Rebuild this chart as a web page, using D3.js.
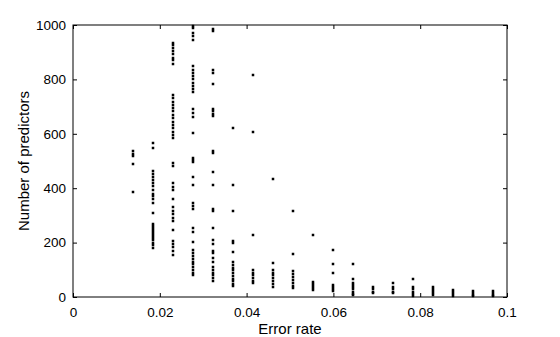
<!DOCTYPE html>
<html>
<head>
<meta charset="utf-8">
<script src="https://cdn.jsdelivr.net/npm/d3@7"></script>
<style>
  body { margin: 0; background: #fff; }
  text { font-family: "Liberation Sans", Arial, sans-serif; }
</style>
</head>
<body>
<div id="chart"></div>
<script>
// error rate of each column of points
const errorRates = [0.0138, 0.0184, 0.0230, 0.0276, 0.0323, 0.0369, 0.0415, 0.0461, 0.0507,
  0.0553, 0.0599, 0.0645, 0.0691, 0.0737, 0.0783, 0.0829, 0.0876, 0.0922, 0.0968];

// number of predictors seen at each error rate (one list per column)
const predictorCounts = [
  [535, 525, 520, 490, 385],
  [565, 548, 462, 452, 442, 430, 420, 408, 395, 380, 370, 360, 345, 310, 270, 262, 255, 248,
   240, 232, 225, 218, 210, 200, 190, 180],
  [935, 925, 915, 905, 895, 880, 870, 858, 742, 730, 718, 706, 694, 682, 670, 658, 645, 632,
   620, 608, 596, 586, 492, 480, 418, 406, 395, 360, 330, 318, 305, 292, 280, 245, 205, 195,
   185, 170, 155],
  [998, 990, 972, 958, 945, 848, 836, 824, 812, 800, 788, 776, 765, 755, 690, 676, 662, 602,
   512, 502, 495, 440, 412, 345, 335, 325, 255, 240, 202, 172, 160, 150, 140, 130, 120, 110,
   100, 90, 82],
  [985, 978, 835, 825, 783, 692, 682, 672, 664, 538, 528, 460, 410, 322, 315, 252, 208, 195,
   170, 160, 145, 130, 110, 100, 90, 80, 70, 60],
  [620, 410, 318, 205, 198, 165, 130, 118, 108, 98, 88, 78, 68, 58, 48, 40],
  [815, 605, 228, 100, 90, 80, 70, 60, 50],
  [432, 125, 100, 90, 80, 70, 58, 48, 38],
  [315, 157, 95, 85, 72, 62, 52, 42, 32],
  [228, 55, 48, 40, 32, 26],
  [172, 120, 87, 44, 36, 28, 22],
  [120, 65, 52, 44, 36, 28, 20, 12, 7],
  [36, 28, 20, 15],
  [52, 36, 28, 20, 13],
  [65, 36, 28, 20, 12, 5],
  [37, 30, 22, 14, 6],
  [27, 20, 12, 5],
  [22, 15, 8, 4],
  [22, 15, 8, 4]
];

const xTicks = [0, 0.02, 0.04, 0.06, 0.08, 0.1];
const yTicks = [0, 200, 400, 600, 800, 1000];

const width = 560, height = 337;
const margin = { top: 25, right: 53, bottom: 40, left: 73 };
const innerW = width - margin.left - margin.right;
const innerH = height - margin.top - margin.bottom;

const points = errorRates.flatMap((e, i) => predictorCounts[i].map(n => ({ e, n })));

const svg = d3.select('#chart').append('svg')
  .attr('width', width)
  .attr('height', height);

const g = svg.append('g').attr('transform', `translate(${margin.left},${margin.top})`);

const x = d3.scaleLinear().domain([0, 0.1]).range([0, innerW]);
const y = d3.scaleLinear().domain([0, 1000]).range([innerH, 0]);

const fmt = d3.format('~g');

// axes with inward ticks on all four sides
const styleAxis = sel => {
  sel.select('.domain').remove();
  sel.selectAll('line').attr('stroke', '#000');
  sel.selectAll('text').attr('fill', '#000').style('font-size', '13.5px');
};

g.append('g')
  .attr('transform', `translate(0,${innerH})`)
  .call(d3.axisBottom(x).tickValues(xTicks).tickFormat(fmt).tickSize(-4).tickPadding(10))
  .call(styleAxis);

g.append('g')
  .call(d3.axisTop(x).tickValues(xTicks).tickFormat('').tickSize(-4))
  .call(styleAxis);

g.append('g')
  .call(d3.axisLeft(y).tickValues(yTicks).tickFormat(fmt).tickSize(-4).tickPadding(7))
  .call(styleAxis);

g.append('g')
  .attr('transform', `translate(${innerW},0)`)
  .call(d3.axisRight(y).tickValues(yTicks).tickFormat('').tickSize(-4))
  .call(styleAxis);

g.append('rect')
  .attr('width', innerW)
  .attr('height', innerH)
  .attr('fill', 'none')
  .attr('stroke', '#000')
  .attr('stroke-width', 1);

// points: small solid squares
g.append('g')
  .selectAll('rect')
  .data(points)
  .join('rect')
  .attr('x', d => Math.round(x(d.e)) - 1.25)
  .attr('y', d => Math.round(y(d.n)) - 1.25)
  .attr('width', 2.5)
  .attr('height', 2.5)
  .attr('fill', '#000');

// axis titles
svg.append('text')
  .attr('x', margin.left + innerW / 2)
  .attr('y', 334)
  .attr('text-anchor', 'middle')
  .style('font-size', '15px')
  .text('Error rate');

svg.append('text')
  .attr('transform', `translate(29,${margin.top + innerH / 2}) rotate(-90)`)
  .attr('text-anchor', 'middle')
  .style('font-size', '15px')
  .text('Number of predictors');
</script>
</body>
</html>
